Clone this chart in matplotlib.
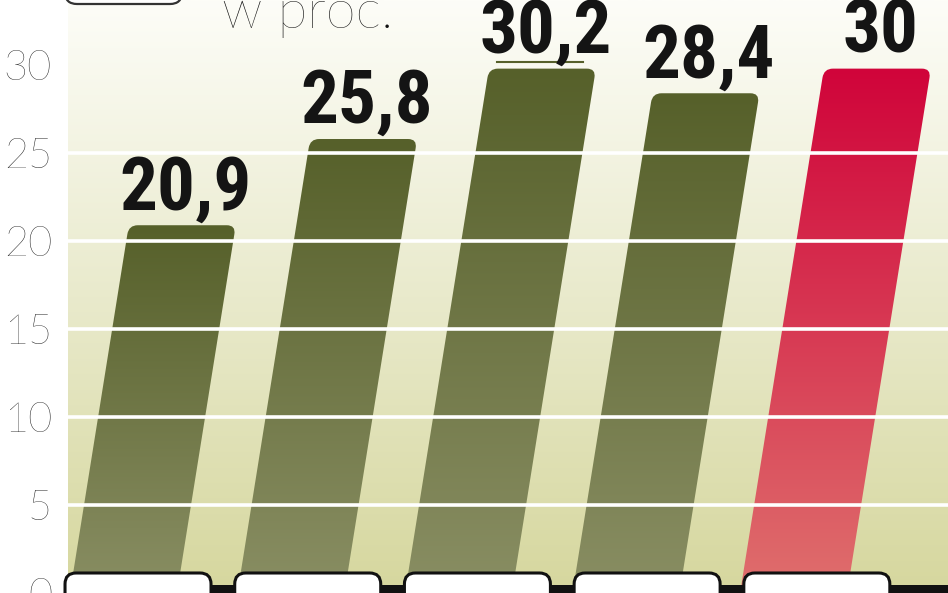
import numpy as np
import matplotlib.pyplot as plt
from matplotlib.path import Path
from matplotlib.patches import PathPatch, FancyBboxPatch, Rectangle
from matplotlib.colors import LinearSegmentedColormap

# dane
values = [20.9, 25.8, 30.2, 28.4, 30.0]
value_labels = ['20,9', '25,8', '30,2', '28,4', '30']
highlight = [False, False, False, False, True]
yticks = [0, 5, 10, 15, 20, 25, 30]
unit_text = 'w proc.'

W, H = 948, 593
fig = plt.figure(figsize=(W / 100, H / 100), dpi=100)
ax = fig.add_axes([68 / W, 0, 1 - 68 / W, 1])

x_min, x_max = -0.331, 4.922
y_min, y_max = 0, 33.7
px_x = (x_max - x_min) / (W - 68)   # jednostki danych na piksel
px_y = (y_max - y_min) / H
slant = 0.16 * px_x / px_y           # przesuniecie w poziomie na jednostke wysokosci
bar_w = 107 * px_x

# tlo z gradientem
bg = LinearSegmentedColormap.from_list('bg', ['#d6d79e', '#e9eacc', '#fdfdf8'])
ax.imshow(np.linspace(0, 1, 256).reshape(-1, 1), cmap=bg, aspect='auto',
          extent=(x_min, x_max, y_min, y_max), origin='lower', zorder=0)

green = LinearSegmentedColormap.from_list('g', ['#898e63', '#56602a'])
red = LinearSegmentedColormap.from_list('r', ['#df6f6d', '#d0043a'])


def bar_path(x0, h, r=9):
    rx, ry = r * px_x, r * px_y
    s = slant
    verts = [(x0, 0), (x0 + bar_w, 0),
             (x0 + bar_w + s * (h - ry), h - ry), (x0 + bar_w + s * h, h), (x0 + bar_w + s * h - rx, h),
             (x0 + s * h + rx, h), (x0 + s * h, h), (x0 + s * (h - ry), h - ry),
             (x0, 0)]
    codes = [Path.MOVETO, Path.LINETO, Path.LINETO, Path.CURVE3, Path.CURVE3,
             Path.LINETO, Path.CURVE3, Path.CURVE3, Path.CLOSEPOLY]
    return Path(verts, codes)


for i, v in enumerate(values):
    h = min(v, 29.8)
    x0 = i - bar_w / 2
    patch = PathPatch(bar_path(x0, h), fc='none', ec='none', zorder=2)
    ax.add_patch(patch)
    cmap = red if highlight[i] else green
    im = ax.imshow(np.linspace(0, 1, 256).reshape(-1, 1), cmap=cmap, aspect='auto',
                   extent=(x0, x0 + bar_w + slant * h, 0, h), origin='lower', zorder=2)
    im.set_clip_path(patch)
    top_c = x0 + slant * h + bar_w / 2
    if v > 30:
        ax.plot([top_c - 0.27, top_c + 0.24], [v, v], color='#56602a', lw=1.5, zorder=2)
    ax.text(top_c + 3 * px_x, h + 16 * px_y, value_labels[i], ha='center', va='baseline',
            fontsize=54, fontweight='bold', color='#141414',
            family=['Roboto Condensed', 'Liberation Sans Narrow', 'DejaVu Sans'], zorder=6)

# biale linie siatki na slupkach
for t in yticks[1:-1]:
    ax.axhline(t, color='white', lw=2.6, zorder=3)

# pasek i ramki na dole
ax.add_patch(Rectangle((x_min + (65 - 68) * px_x, -1), 10, 1 + 8 * px_y, fc='#111111', ec='none',
                       clip_on=False, zorder=4))
box_w = 146 * px_x
for i in range(len(values)):
    cx = i * 1.013 + 0.087
    ax.add_patch(FancyBboxPatch((cx - box_w / 2, -2), box_w, 2 + 20 * px_y,
                                boxstyle=f'round,pad=0,rounding_size={11 * px_x}',
                                mutation_aspect=px_y / px_x, fc='white', ec='#111111', lw=2.2,
                                clip_on=False, zorder=5))

ax.set_xlim(x_min, x_max)
ax.set_ylim(y_min, y_max)
ax.set_xticks([])
ax.set_yticks(yticks)
ax.set_yticklabels([str(t) for t in yticks], fontsize=30, color='#111111',
                   family=['Lato', 'DejaVu Sans'], fontweight='light')
ax.tick_params(axis='y', length=0, pad=11.5)
for sp in ax.spines.values():
    sp.set_visible(False)

# ramka u gory i jednostka
fig.add_artist(FancyBboxPatch((65 / W, 1 - 4 / H), 117 / W, 0.2,
                              boxstyle=f'round,pad=0,rounding_size={12 / W}',
                              mutation_aspect=W / H, fc='white', ec='#333333', lw=1.6,
                              transform=fig.transFigure))
fig.text(222 / W, 1 - 28 / H, unit_text, fontsize=39, color='#111111',
         family=['Lato', 'DejaVu Sans'], fontweight='light', ha='left', va='baseline')

fig.savefig('out.png', dpi=100)
